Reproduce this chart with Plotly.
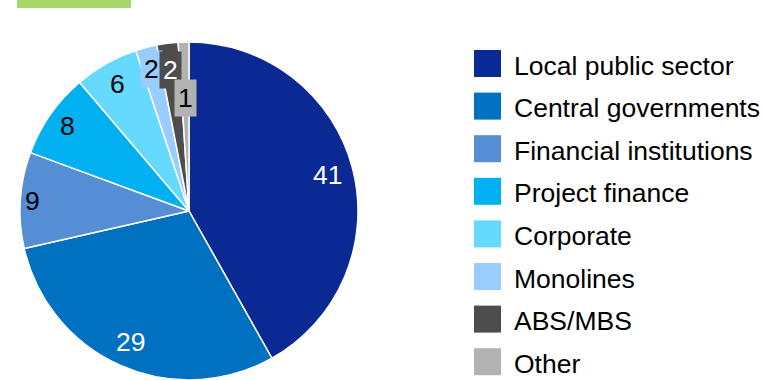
import math
import plotly.graph_objects as go

# Exposure breakdown by counterparty type (%)
categories = [
    "Local public sector",
    "Central governments",
    "Financial institutions",
    "Project finance",
    "Corporate",
    "Monolines",
    "ABS/MBS",
    "Other",
]
shares = [41, 29, 9, 8, 6, 2, 2, 1]

colors = ["#0A2993", "#0070C0", "#558ED5", "#00B0F0",
          "#66D9FF", "#99CCFF", "#4D4D4D", "#B2B2B2"]
label_colors = ["white", "white", "black", "black",
                "black", "black", "white", "black"]
# radial position of each value label, as a fraction of the radius
label_radius = [0.85, 0.85, 0.93, 0.88, 0.86, 0.87, 0.84, 0.67]
# small slices get a filled box behind their label
label_boxed = [False, False, False, False, False, True, True, True]

W, H = 764, 380
FONT = "Liberation Sans, Arial, sans-serif"
FONT_SIZE = 26.5

# pie geometry in pixels
cx, cy, R = 189, 211, 169


def px(x):
    return x / W


def py(y):
    return 1 - y / H


fig = go.Figure()
fig.add_trace(go.Pie(
    labels=categories,
    values=shares,
    sort=False,
    direction="clockwise",
    rotation=0,
    marker=dict(colors=colors, line=dict(color="white", width=1.5)),
    textinfo="none",
    hoverinfo="label+value",
    showlegend=False,
    domain=dict(x=[px(cx - R), px(cx + R)], y=[py(cy + R), py(cy - R)]),
))

annotations = []
total = sum(shares)
cum = 0
for val, col, fr, boxed, fill in zip(shares, label_colors, label_radius,
                                     label_boxed, colors):
    mid = (cum + val / 2) / total * 2 * math.pi
    cum += val
    lx = cx + fr * R * math.sin(mid)
    ly = cy - fr * R * math.cos(mid)
    annotations.append(dict(
        x=px(lx), y=py(ly), xref="paper", yref="paper",
        text=str(val), showarrow=False,
        xanchor="center", yanchor="middle",
        font=dict(family=FONT, size=FONT_SIZE, color=col),
        bgcolor=fill if boxed else None,
        borderpad=3,
    ))

# legend: coloured squares with labels
leg_x, leg_y0, leg_step, sq = 474, 63.5, 42.6, 27
shapes = []
for i, (name, col) in enumerate(zip(categories, colors)):
    yc = leg_y0 + i * leg_step
    shapes.append(dict(
        type="rect", xref="paper", yref="paper",
        x0=px(leg_x), x1=px(leg_x + sq),
        y0=py(yc + sq / 2), y1=py(yc - sq / 2),
        fillcolor=col, line=dict(width=0),
    ))
    annotations.append(dict(
        x=px(leg_x + sq + 11), y=py(yc + 2), xref="paper", yref="paper",
        text=name, showarrow=False, xanchor="left", yanchor="middle",
        font=dict(family=FONT, size=FONT_SIZE, color="black"),
    ))

# header accent bar
shapes.append(dict(
    type="rect", xref="paper", yref="paper",
    x0=px(17), x1=px(131), y0=py(8), y1=1,
    fillcolor="#A5D76A", line=dict(width=0),
))

fig.update_layout(
    width=W, height=H,
    margin=dict(l=0, r=0, t=0, b=0),
    paper_bgcolor="white",
    plot_bgcolor="white",
    shapes=shapes,
    annotations=annotations,
    font=dict(family=FONT),
)

fig.write_html("out.html")
